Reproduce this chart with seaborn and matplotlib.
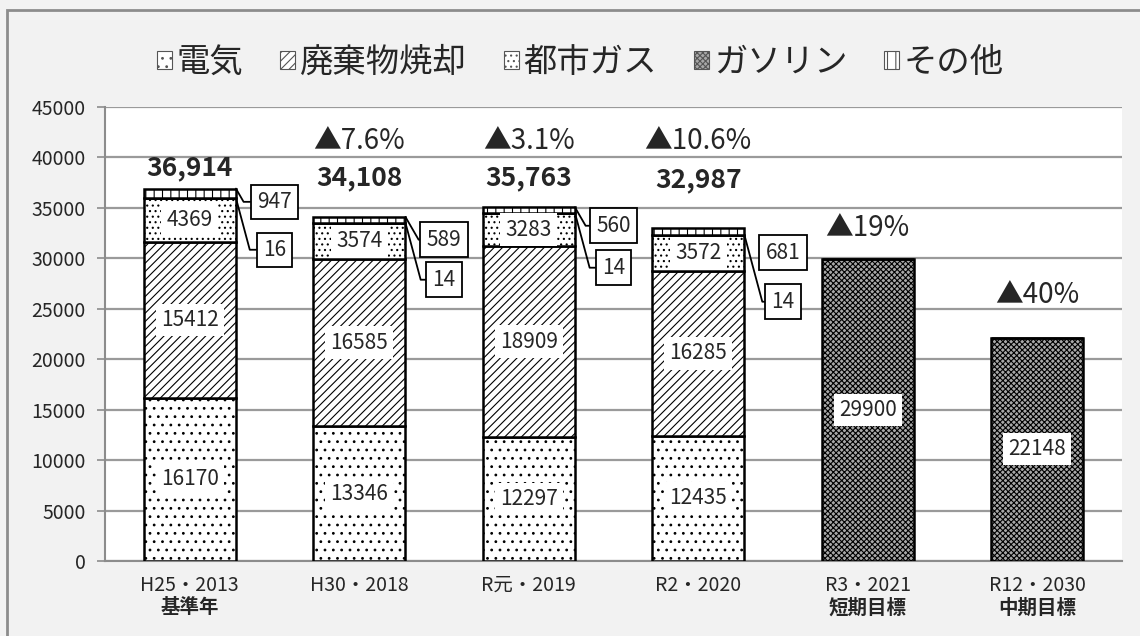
import numpy as np
import pandas as pd
import seaborn as sns
import matplotlib.pyplot as plt
from matplotlib.patches import Patch, Rectangle

# data
years = ['H25・2013', 'H30・2018', 'R元・2019', 'R2・2020', 'R3・2021', 'R12・2030']
subtitles = ['基準年', '', '', '', '短期目標', '中期目標']
series = ['電気', '廃棄物焼却', '都市ガス', 'ガソリン', 'その他']
denki = [16170, 13346, 12297, 12435, 0, 0]
haikibutsu = [15412, 16585, 18909, 16285, 0, 0]
toshigas = [4369, 3574, 3283, 3572, 0, 0]
gasoline = [16, 14, 14, 14, 29900, 22148]
sonota = [947, 589, 560, 681, 0, 0]
total_labels = ['36,914', '34,108', '35,763', '32,987', '', '']
reduction_labels = ['', '▲7.6%', '▲3.1%', '▲10.6%', '▲19%', '▲40%']

# label placement (value units on the y axis)
total_y = [39000, 38000, 38000, 37800, 0, 0]
reduction_y = [0, 41600, 41600, 41600, 33000, 26400]
sonota_box_y = [35600, 31850, 33230, 30560]
gasoline_box_y = [30850, 27880, 29070, 25700]
sonota_leader = [True, True, True, False]

sns.set_style('white')
plt.rcParams['font.family'] = ['Noto Sans CJK JP', 'DejaVu Sans']
plt.rcParams['hatch.linewidth'] = 0.8

fig = plt.figure(figsize=(11.4, 6.36), dpi=100, facecolor='#f2f2f2')
ax = fig.add_axes([105 / 1140, 75 / 636, 1017 / 1140, 454 / 636])
ax.set_facecolor('white')

hatches = ['..', '////', '...', 'xxxxxx', '||']
faces = ['white', 'white', 'white', '#a8a8a8', 'white']
values = [denki, haikibutsu, toshigas, gasoline, sonota]
bar_w = 0.545

bottom = np.zeros(len(years))
bottoms = []
for name, vals, h, fc in zip(series, values, hatches, faces):
    d = pd.DataFrame({'year': years, 'value': vals})
    sns.barplot(data=d, x='year', y='value', order=years, bottom=bottom.copy(),
                color=fc, saturation=1, edgecolor='black', linewidth=1.8,
                hatch=h, width=bar_w, errorbar=None, ax=ax, zorder=3)
    bottoms.append(bottom.copy())
    bottom = bottom + np.array(vals)

# value labels inside the big segments
for k in [0, 1, 2, 3]:
    for i, v in enumerate(values[k]):
        if v >= 1000:
            ax.text(i, bottoms[k][i] + v / 2, str(v), ha='center', va='center',
                    fontsize=15, zorder=5,
                    bbox=dict(boxstyle='square,pad=0.25', fc='white', ec='none'))

# boxed labels for the small segments
for i in range(4):
    top = bottoms[4][i] + sonota[i]
    arrow = dict(arrowstyle='-', color='black', lw=1.3, shrinkA=0, shrinkB=0,
                 connectionstyle='angle,angleA=0,angleB=-60,rad=0')
    ax.annotate(str(sonota[i]), xy=(i + bar_w / 2, top), xytext=(i + 0.5, sonota_box_y[i]),
                ha='center', va='center', fontsize=15, zorder=6,
                bbox=dict(boxstyle='square,pad=0.3', fc='white', ec='black', lw=1.3),
                arrowprops=arrow if sonota_leader[i] else None)
    gtop = bottoms[3][i] + gasoline[i]
    ax.annotate(str(gasoline[i]), xy=(i + bar_w / 2, gtop), xytext=(i + 0.5, gasoline_box_y[i]),
                ha='center', va='center', fontsize=15, zorder=6,
                bbox=dict(boxstyle='square,pad=0.3', fc='white', ec='black', lw=1.3),
                arrowprops=dict(arrowstyle='-', color='black', lw=1.3, shrinkA=0, shrinkB=0,
                                connectionstyle='angle,angleA=0,angleB=-75,rad=0'))

for i in range(len(years)):
    if total_labels[i]:
        ax.text(i, total_y[i], total_labels[i], ha='center', va='center',
                fontsize=19, fontweight='bold', zorder=6)
    if reduction_labels[i]:
        ax.text(i, reduction_y[i], reduction_labels[i], ha='center', va='center',
                fontsize=20, zorder=6)

ax.set_ylim(0, 45000)
ax.set_xlim(-0.5, 5.5)
ax.set_yticks(np.arange(0, 45001, 5000))
ax.yaxis.grid(True, color='#9a9a9a', lw=1.6, zorder=0)
ax.set_axisbelow(True)
ax.set_xlabel('')
ax.set_ylabel('')
ax.set_xticks(range(len(years)))
ax.set_xticklabels(years, fontsize=14)
ax.set_xticks(np.arange(-0.5, 6, 1), minor=True)
ax.tick_params(axis='x', which='major', length=0, pad=10)
ax.tick_params(axis='x', which='minor', length=6, color='#8c8c8c', width=1.2)
ax.tick_params(axis='y', length=6, color='#8c8c8c', width=1.2, labelsize=14, pad=8, left=True)
for i, s in enumerate(subtitles):
    if s:
        ax.text(i, -4650, s, ha='center', va='center', fontsize=14, fontweight='bold')

sns.despine(ax=ax, top=True, right=True)
for sp in ['left', 'bottom']:
    ax.spines[sp].set_color('#8c8c8c')
    ax.spines[sp].set_linewidth(1.5)

handles = [Patch(facecolor=fc, edgecolor='#555555', hatch=h, linewidth=0.8)
           for h, fc in zip(hatches, faces)]
fig.legend(handles, series, loc='center', bbox_to_anchor=(0.509, 0.9025), ncol=5,
           frameon=False, fontsize=24, handlelength=0.45, handleheight=0.45,
           handletextpad=0.15, columnspacing=1.1)

fig.patches.append(Rectangle((7 / 1140, -0.1), 1.2, 1.1 - 10 / 636, transform=fig.transFigure,
                             fill=False, edgecolor='#8c8c8c', lw=2))

fig.savefig('out.png', dpi=100, facecolor=fig.get_facecolor())
